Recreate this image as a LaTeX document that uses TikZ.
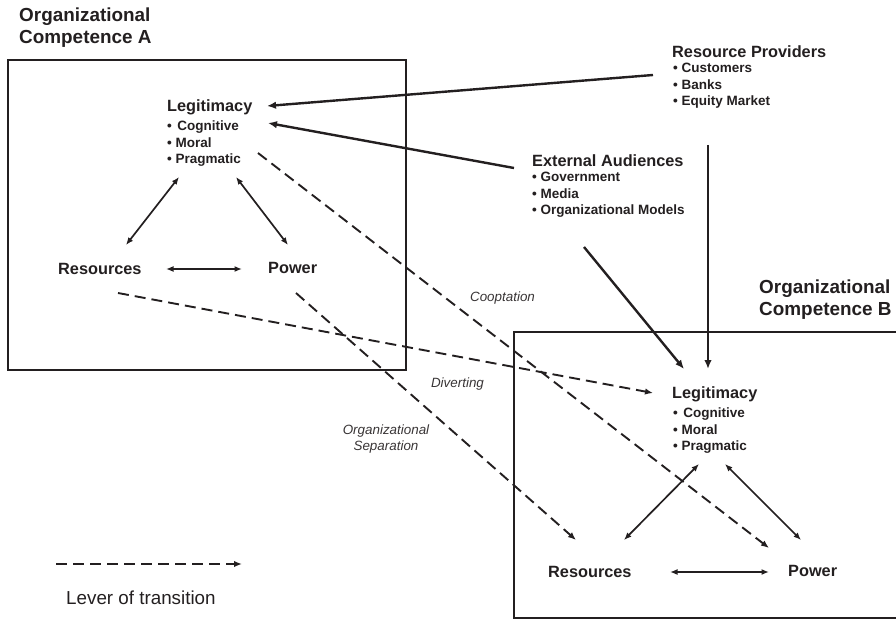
\documentclass[tikz,border=0pt]{standalone}
\usepackage{fontspec}
\setmainfont{Liberation Sans}
\usetikzlibrary{arrows.meta}
\definecolor{ink}{HTML}{231F20}
\begin{document}
\begin{tikzpicture}[x=1pt,y=-1pt,
  head/.style={font=\bfseries\fontsize{16.3}{19}\selectfont, inner sep=0, text=ink, anchor=west},
  list/.style={font=\bfseries\fontsize{13.5}{16.5}\selectfont, inner sep=0, text=ink, align=left, anchor=north west},
  title/.style={font=\bfseries\fontsize{18.9}{22}\selectfont, inner sep=0, text=ink, align=left, anchor=north west},
  lbl/.style={font=\itshape\fontsize{13.4}{16}\selectfont, inner sep=0, text=ink!90, align=center},
  boxline/.style={line width=2.7pt, draw=ink},
  bigarrow/.style={line width=2.4pt, draw=ink, -{Latex[length=9pt,width=7.5pt]}},
  rel/.style={line width=1.7pt, draw=ink, {Latex[length=7.5pt,width=6pt]}-{Latex[length=7.5pt,width=6pt]}},
  trans/.style={line width=1.9pt, draw=ink, dash pattern=on 11pt off 6pt, -{Latex[length=8pt,width=6.5pt]}}
]
\useasboundingbox (0,0) rectangle (896,620);

% boxes
\draw[boxline] (8,60) rectangle (406,370);
\draw[boxline] (900,332) -- (514,332) -- (514,618) -- (900,618);

% titles
\node[title] (titA) at (19,8) {Organizational\\Competence A};
\node[title] (titB) at (759,280) {Organizational\\Competence B};

% competence A
\node[head] (legA) at (167,107) {Legitimacy};
\node[list] (legAl) at (167,121) {•\hspace{1.6pt} Cognitive\\• Moral\\• Pragmatic};
\node[head] (resA) at (58,269) {Resources};
\node[head] (powA) at (268,268) {Power};

% competence B
\node[head] (legB) at (672,394) {Legitimacy};
\node[list] (legBl) at (673,408) {•\hspace{1.6pt} Cognitive\\• Moral\\• Pragmatic};
\node[head] (resB) at (548,572) {Resources};
\node[head] (powB) at (788,571) {Power};

% external
\node[head] (rp) at (672,52) {Resource Providers};
\node[list] (rpl) at (673,63) {• Customers\\• Banks\\• Equity Market};
\node[head] (ea) at (532,161) {External Audiences};
\node[list] (eal) at (532,172) {• Government\\• Media\\• Organizational Models};

% lever labels
\node[lbl] (coop) at (502.5,298) {Cooptation};
\node[lbl] (div) at (457.5,384) {Diverting};
\node[lbl] (sep) at (386,439) {Organizational\\Separation};

% legend
\node[font=\fontsize{18.8}{22}\selectfont, inner sep=0, text=ink, anchor=west] (levtxt) at (66,598) {Lever of transition};
\coordinate (levS) at (56,564);
\coordinate (levE) at (242,564);
\draw[trans] (levS) -- (levE);

% connector end points
\coordinate (rpOut) at (653,75);
\coordinate (legAinR) at (267,106);
\coordinate (eaOutA) at (514,168);
\coordinate (legAinE) at (268,123);
\coordinate (eaOutB) at (584,247);
\coordinate (legBinE) at (684,369);
\coordinate (rpDown) at (708,145);
\coordinate (legBinR) at (708,369);

\coordinate (legAsw) at (179,177);
\coordinate (resAn) at (126,245);
\coordinate (legAse) at (236,177);
\coordinate (powAn) at (288,245);
\coordinate (resAe) at (166,269);
\coordinate (powAw) at (242,269);

\coordinate (legBsw) at (699,464);
\coordinate (resBn) at (624,540);
\coordinate (legBse) at (725,464);
\coordinate (powBn) at (801,540);
\coordinate (resBe) at (670,572);
\coordinate (powBw) at (769,572);

\coordinate (legAout) at (258,153);
\coordinate (powBin) at (769,548);
\coordinate (resAout) at (118,293);
\coordinate (legBin) at (653,393);
\coordinate (powAout) at (296,293);
\coordinate (resBin) at (576,540);

% solid arrows
\draw[bigarrow] (rpOut) -- (legAinR);
\draw[bigarrow] (eaOutA) -- (legAinE);
\draw[bigarrow] (eaOutB) -- (legBinE);
\draw[bigarrow] (rpDown) -- (legBinR);

% relations
\draw[rel] (legAsw) -- (resAn);
\draw[rel] (legAse) -- (powAn);
\draw[rel] (resAe) -- (powAw);
\draw[rel] (legBsw) -- (resBn);
\draw[rel] (legBse) -- (powBn);
\draw[rel] (resBe) -- (powBw);

% levers of transition
\draw[trans] (legAout) -- (powBin);
\draw[trans] (resAout) -- (legBin);
\draw[trans] (powAout) -- (resBin);
\end{tikzpicture}
\end{document}
